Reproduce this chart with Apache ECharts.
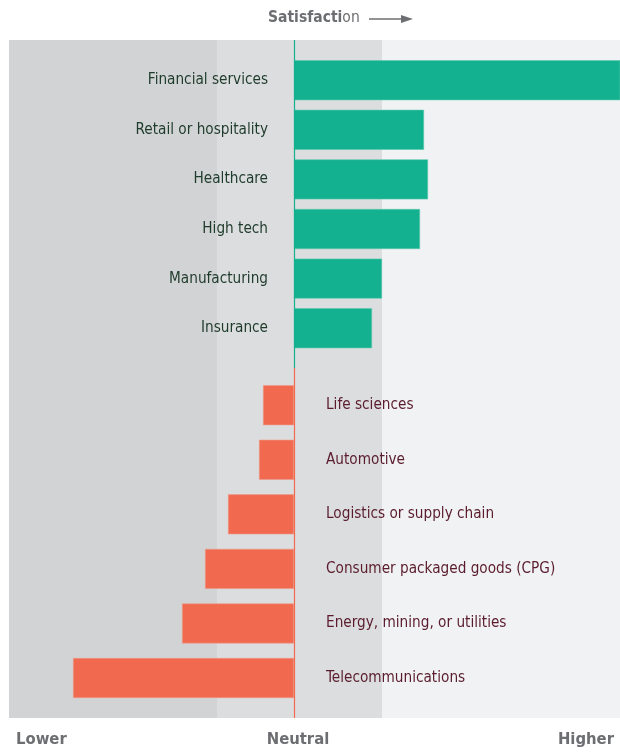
<!DOCTYPE html>
<html>
<head>
<meta charset="utf-8">
<script src="https://cdn.jsdelivr.net/npm/echarts@6/dist/echarts.min.js"></script>
<style>html,body{margin:0;padding:0;background:#fff}#c{width:620px;height:753px}</style>
</head>
<body>
<div id="c"></div>
<script>
// Industries with higher-than-neutral satisfaction (top group)
var topCategories = ['Financial services', 'Retail or hospitality', 'Healthcare', 'High tech', 'Manufacturing', 'Insurance'];
var topValues = [35, 13.0, 13.4, 12.6, 8.8, 7.8];
// Industries with lower-than-neutral satisfaction (bottom group)
var bottomCategories = ['Life sciences', 'Automotive', 'Logistics or supply chain', 'Consumer packaged goods (CPG)', 'Energy, mining, or utilities', 'Telecommunications'];
var bottomValues = [-3.1, -3.5, -6.6, -8.9, -11.2, -22.1];
// Scale and shaded zones
var scaleMin = -28.5, scaleMax = 32.6;
var zoneLow = -7.7, zoneHigh = 8.8;
var scaleLabels = ['Lower', 'Neutral', 'Higher'];
var titleText = 'Satisfaction';

var FONT = '"DejaVu Sans Condensed", "Liberation Sans Narrow", sans-serif';
var GREEN = '#13b18f', ORANGE = '#f16a50', GREY = '#6d6e71';

var chart = echarts.init(document.getElementById('c'));
function valAxis(gi) {
  return {type: 'value', gridIndex: gi, min: scaleMin, max: scaleMax,
    axisLine: {show: false}, axisTick: {show: false}, axisLabel: {show: false}, splitLine: {show: false}};
}
function catAxis(gi, cats) {
  return {type: 'category', gridIndex: gi, data: cats, inverse: true,
    axisLine: {show: false}, axisTick: {show: false}, axisLabel: {show: false}, splitLine: {show: false}};
}
function scaleText(txt, x, align) {
  return {type: 'text', x: x, y: 740, style: {text: txt, align: align, verticalAlign: 'middle',
    fontFamily: FONT, fontSize: 16.5, fontWeight: 'bold', fill: GREY}};
}
chart.setOption({
  animation: false,
  graphic: [
    {type: 'text', x: 268, y: 18, style: {
      text: '{b|' + titleText.slice(0, 10) + '}{r|' + titleText.slice(10) + '}',
      verticalAlign: 'middle', align: 'left',
      rich: {
        b: {fontFamily: FONT, fontSize: 15.5, fontWeight: 'bold', fill: GREY, verticalAlign: 'middle'},
        r: {fontFamily: FONT, fontSize: 15.5, fontWeight: 'normal', fill: GREY, verticalAlign: 'middle'}}}},
    {type: 'line', shape: {x1: 369, y1: 19, x2: 406, y2: 19}, style: {stroke: GREY, lineWidth: 1.5}},
    {type: 'polygon', shape: {points: [[401, 15], [413, 19], [401, 23]]}, style: {fill: GREY}},
    scaleText(scaleLabels[0], 16, 'left'),
    scaleText(scaleLabels[1], 298, 'center'),
    scaleText(scaleLabels[2], 614, 'right')
  ],
  grid: [
    {left: 9, right: 0, top: 40, bottom: 35},
    {left: 9, right: 0, top: 55.4, height: 297.6},
    {left: 9, right: 0, top: 377.9, height: 327.4}
  ],
  xAxis: [valAxis(0), valAxis(1), valAxis(2)],
  yAxis: [
    {type: 'value', gridIndex: 0, min: 0, max: 678, inverse: true, show: false},
    catAxis(1, topCategories),
    catAxis(2, bottomCategories)
  ],
  series: [
    {type: 'scatter', xAxisIndex: 0, yAxisIndex: 0, data: [], silent: true,
      markArea: {silent: true, data: [
        [{coord: [scaleMin, 0], itemStyle: {color: '#d2d3d5'}}, {coord: [zoneLow, 678]}],
        [{coord: [zoneLow, 0], itemStyle: {color: '#dcdddf'}}, {coord: [zoneHigh, 678]}],
        [{coord: [zoneHigh, 0], itemStyle: {color: '#f1f2f4'}}, {coord: [scaleMax, 678]}]
      ]},
      markLine: {silent: true, symbol: 'none', label: {show: false}, data: [
        [{coord: [0, 0], lineStyle: {color: GREEN, width: 1.2, type: 'solid'}}, {coord: [0, 328]}],
        [{coord: [0, 328], lineStyle: {color: ORANGE, width: 1.2, type: 'solid'}}, {coord: [0, 678]}]
      ]}
    },
    {type: 'bar', xAxisIndex: 1, yAxisIndex: 1, data: topValues, barWidth: 40,
      itemStyle: {color: GREEN, borderColor: '#5cc9ad', borderWidth: 0.6},
      label: {show: true, position: 'left', distance: 26, formatter: '{b}',
        fontFamily: FONT, fontSize: 15.2, color: '#1e3b2b'}},
    {type: 'bar', xAxisIndex: 2, yAxisIndex: 2, data: bottomValues, barWidth: 40,
      itemStyle: {color: ORANGE, borderColor: '#ef9a88', borderWidth: 0.6},
      label: {show: true, position: 'right', distance: 32, formatter: '{b}',
        fontFamily: FONT, fontSize: 15.2, color: '#5a1c2c'}}
  ]
});
</script>
</body>
</html>
